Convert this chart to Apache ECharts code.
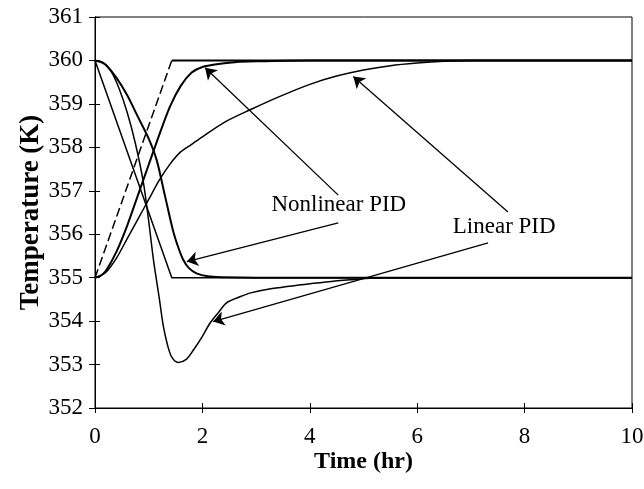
<!DOCTYPE html>
<html>
<head>
<meta charset="utf-8">
<script src="https://cdn.jsdelivr.net/npm/echarts@6/dist/echarts.min.js"></script>
<style>
  html, body { margin: 0; padding: 0; background: #fff; }
  #chart { width: 644px; height: 489px; }
</style>
</head>
<body>
<div id="chart"></div>
<script>
// set point trajectories
const rampUp = [[0, 355], [1.43, 360]]
const setpointHigh = [[1.43, 360], [10, 360]]
const setpointLow = [[0, 360], [1.43, 355], [10, 355]]

// nonlinear PID responses
const nonlinearUp = [
  [0, 355], [0.1, 355.04], [0.2, 355.15], [0.4, 355.6], [0.6, 356.2], [0.8, 356.9],
  [1.0, 357.6], [1.2, 358.3], [1.4, 358.95], [1.6, 359.42], [1.8, 359.72], [2.0, 359.85],
  [2.3, 359.92], [2.6, 359.96], [3.0, 359.98], [4.0, 360], [10, 360]
]
const nonlinearDown = [
  [0, 360], [0.1, 359.97], [0.2, 359.9], [0.4, 359.6], [0.6, 359.2], [0.8, 358.7],
  [1.0, 358.2], [1.15, 357.7], [1.3, 356.9], [1.45, 356.1], [1.55, 355.7], [1.64, 355.42],
  [1.75, 355.22], [1.89, 355.1], [2.1, 355.03], [2.4, 355.01], [3.0, 355], [10, 355]
]

// linear PID responses
const linearUp = [
  [0, 355], [0.2, 355.12], [0.4, 355.45], [0.6, 355.9], [0.8, 356.35], [1.0, 356.8],
  [1.2, 357.25], [1.4, 357.62], [1.6, 357.9], [1.8, 358.07], [2.0, 358.24], [2.4, 358.57],
  [2.9, 358.87], [3.4, 359.15], [4.0, 359.45], [4.5, 359.64], [5.0, 359.78], [5.5, 359.88],
  [6.0, 359.94], [6.5, 359.98], [7.0, 360], [10, 360]
]
const linearDown = [
  [0, 360], [0.15, 359.95], [0.3, 359.75], [0.45, 359.35], [0.6, 358.8], [0.75, 358.1],
  [0.9, 357.2], [1.0, 356.3], [1.09, 355.4], [1.2, 354.5], [1.27, 353.9], [1.35, 353.45],
  [1.43, 353.17], [1.55, 353.05], [1.7, 353.12], [1.83, 353.33], [2.0, 353.65], [2.14, 353.95],
  [2.3, 354.2], [2.45, 354.42], [2.7, 354.56], [2.9, 354.65], [3.3, 354.75], [3.8, 354.83],
  [4.3, 354.9], [4.75, 354.95], [5.2, 354.99], [5.6, 355], [10, 355]
]

// annotations: label positions and arrows (from -> to), in data units
const labelTexts = ['Nonlinear PID', 'Linear PID']
const labelCoords = [[4.54, 356.67], [7.62, 356.17]]
const arrows = [
  [[4.53, 356.9], [2.05, 359.83]],
  [[4.53, 356.26], [1.71, 355.37]],
  [[7.69, 356.51], [4.81, 359.63]],
  [[7.32, 355.8], [2.2, 353.99]]
]

const xTicks = { min: 0, max: 10, interval: 2 }
const yTicks = { min: 352, max: 361, interval: 1 }

const font = 'Liberation Serif'
const black = '#000'

const lineSeries = (data, width, type, smooth) => ({
  type: 'line',
  data,
  smooth: smooth === undefined ? 0.3 : smooth,
  symbol: 'none',
  lineStyle: { color: black, width, type: type || 'solid' },
  silent: true,
  z: 3
})

const chart = echarts.init(document.getElementById('chart'))

const axisCommon = {
  type: 'value',
  axisLine: { show: true, lineStyle: { color: black, width: 1 } },
  splitLine: { show: false }
}

chart.setOption({
  animation: false,
  grid: {
    left: 95, right: 12, top: 17, bottom: 81,
    containLabel: false,
    outerBoundsMode: 'none',
    show: true, borderColor: black, borderWidth: 1
  },
  xAxis: [
    {
      ...axisCommon,
      ...xTicks,
      name: 'Time (hr)',
      nameLocation: 'middle',
      nameGap: 42,
      nameMoveOverlap: false,
      nameTextStyle: { fontFamily: font, fontSize: 24, fontWeight: 'bold', color: black },
      axisTick: { show: true, length: 5, lineStyle: { color: black } },
      axisLabel: { fontFamily: font, fontSize: 23, color: black, margin: 17 }
    },
    {
      ...axisCommon,
      ...xTicks,
      position: 'bottom',
      axisTick: { show: true, inside: true, length: 5, lineStyle: { color: black } },
      axisLabel: { show: false }
    }
  ],
  yAxis: [
    {
      ...axisCommon,
      ...yTicks,
      name: 'Temperature (K)',
      nameLocation: 'middle',
      nameGap: 50,
      nameMoveOverlap: false,
      nameTextStyle: { fontFamily: font, fontSize: 27, fontWeight: 'bold', color: black },
      axisTick: { show: true, length: 6, lineStyle: { color: black } },
      axisLabel: { fontFamily: font, fontSize: 23, color: black, margin: 12 }
    },
    {
      ...axisCommon,
      ...yTicks,
      position: 'left',
      axisTick: { show: true, inside: true, length: 5, lineStyle: { color: black } },
      axisLabel: { show: false }
    }
  ],
  series: [
    lineSeries(rampUp, 1.5, [9, 4], false),
    lineSeries(setpointHigh, 2, 'solid', false),
    lineSeries(setpointLow, 1.5, 'solid', false),
    lineSeries(nonlinearUp, 2),
    lineSeries(nonlinearDown, 2),
    lineSeries(linearUp, 1.5),
    lineSeries(linearDown, 1.5),
    {
      type: 'scatter',
      data: [],
      silent: true,
      markLine: {
        silent: true,
        animation: false,
        symbol: ['none', 'arrow'],
        symbolSize: 11,
        label: { show: false },
        lineStyle: { color: black, width: 1.3, type: 'solid' },
        data: arrows.map(([from, to]) => [{ coord: from }, { coord: to }])
      },
      markPoint: {
        silent: true,
        animation: false,
        symbol: 'circle',
        symbolSize: 0,
        label: {
          show: true,
          position: 'inside',
          fontFamily: font,
          fontSize: 23,
          color: black,
          formatter: p => p.name
        },
        data: labelTexts.map((name, i) => ({ name, coord: labelCoords[i] }))
      }
    }
  ]
})
</script>
</body>
</html>
